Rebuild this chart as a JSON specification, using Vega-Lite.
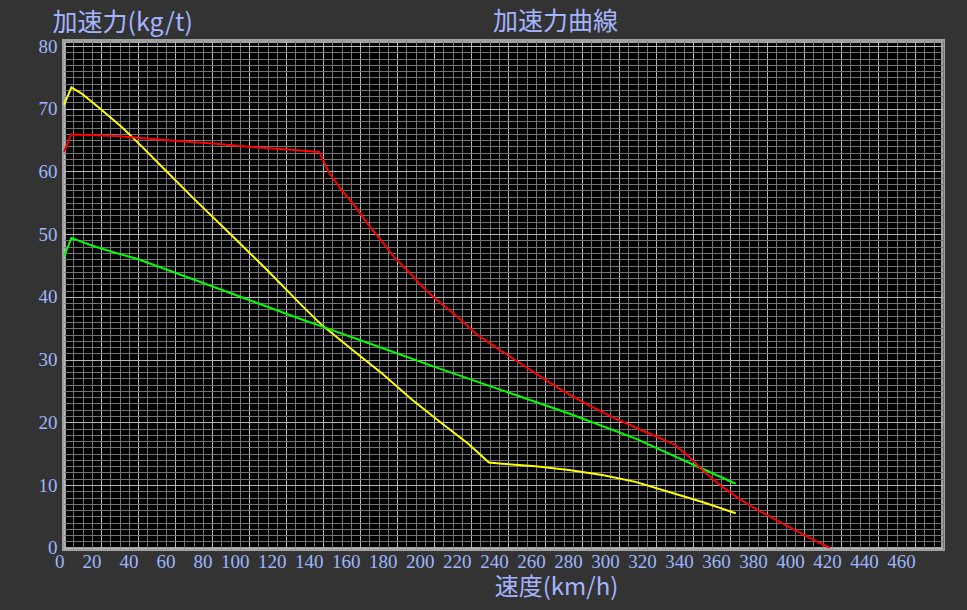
{
  "$schema": "https://vega.github.io/schema/vega-lite/v6.json",
  "width": 879,
  "height": 508,
  "autosize": {"type": "none"},
  "padding": {"left": 64, "top": 41, "right": 24, "bottom": 61},
  "background": "#333333",
  "config": {
    "view": {"fill": "#000000", "stroke": "#a0a0a0", "strokeWidth": 4}
  },
  "title": {
    "text": "加速力曲線",
    "font": "Noto Sans CJK JP",
    "fontSize": 25,
    "fontWeight": "normal",
    "color": "#a4b4ff",
    "anchor": "middle",
    "frame": "group",
    "dx": 52,
    "dy": 27,
    "offset": -10,
    "baseline": "middle"
  },
  "data": {
    "values": [
      {"series": "A", "speed": 0, "force": 70.6},
      {"series": "A", "speed": 4, "force": 73.4},
      {"series": "A", "speed": 9.6, "force": 72.4},
      {"series": "A", "speed": 15, "force": 71.1},
      {"series": "A", "speed": 20.4, "force": 69.8},
      {"series": "A", "speed": 31.2, "force": 67.1},
      {"series": "A", "speed": 42, "force": 64.0},
      {"series": "A", "speed": 52.8, "force": 60.8},
      {"series": "A", "speed": 70, "force": 55.7},
      {"series": "A", "speed": 90, "force": 50.0},
      {"series": "A", "speed": 110, "force": 44.2},
      {"series": "A", "speed": 128.6, "force": 38.6},
      {"series": "A", "speed": 139.4, "force": 35.5},
      {"series": "A", "speed": 155.6, "force": 31.6},
      {"series": "A", "speed": 171.9, "force": 27.8},
      {"series": "A", "speed": 188.1, "force": 23.6},
      {"series": "A", "speed": 204.3, "force": 19.8},
      {"series": "A", "speed": 218.8, "force": 16.5},
      {"series": "A", "speed": 229.6, "force": 13.6},
      {"series": "A", "speed": 236.8, "force": 13.4},
      {"series": "A", "speed": 254.8, "force": 13.0},
      {"series": "A", "speed": 272.9, "force": 12.4},
      {"series": "A", "speed": 290.9, "force": 11.6},
      {"series": "A", "speed": 308.9, "force": 10.5},
      {"series": "A", "speed": 327, "force": 8.9},
      {"series": "A", "speed": 345, "force": 7.3},
      {"series": "A", "speed": 363, "force": 5.5},
      {"series": "B", "speed": 0, "force": 46.4},
      {"series": "B", "speed": 4, "force": 49.4},
      {"series": "B", "speed": 15, "force": 48.2},
      {"series": "B", "speed": 25.8, "force": 47.2},
      {"series": "B", "speed": 40.2, "force": 46.0},
      {"series": "B", "speed": 80, "force": 41.7},
      {"series": "B", "speed": 100, "force": 39.5},
      {"series": "B", "speed": 128.6, "force": 36.4},
      {"series": "B", "speed": 141.2, "force": 35.1},
      {"series": "B", "speed": 164.7, "force": 32.6},
      {"series": "B", "speed": 200.7, "force": 28.8},
      {"series": "B", "speed": 236.8, "force": 25.1},
      {"series": "B", "speed": 272.9, "force": 21.4},
      {"series": "B", "speed": 308.9, "force": 17.4},
      {"series": "B", "speed": 345, "force": 12.6},
      {"series": "B", "speed": 363, "force": 10.2},
      {"series": "C", "speed": 0, "force": 63.1},
      {"series": "C", "speed": 3.8, "force": 65.9},
      {"series": "C", "speed": 15, "force": 65.8},
      {"series": "C", "speed": 30, "force": 65.6},
      {"series": "C", "speed": 51, "force": 65.1},
      {"series": "C", "speed": 82, "force": 64.4},
      {"series": "C", "speed": 101, "force": 63.9},
      {"series": "C", "speed": 121, "force": 63.5},
      {"series": "C", "speed": 138, "force": 63.1},
      {"series": "C", "speed": 143, "force": 59.9},
      {"series": "C", "speed": 150.2, "force": 57.0},
      {"series": "C", "speed": 157.4, "force": 54.4},
      {"series": "C", "speed": 164.7, "force": 51.4},
      {"series": "C", "speed": 171.9, "force": 48.8},
      {"series": "C", "speed": 179.1, "force": 46.1},
      {"series": "C", "speed": 186.3, "force": 44.0},
      {"series": "C", "speed": 193.5, "force": 41.7},
      {"series": "C", "speed": 200.7, "force": 39.7},
      {"series": "C", "speed": 211.5, "force": 37.1},
      {"series": "C", "speed": 222.3, "force": 34.2},
      {"series": "C", "speed": 233.2, "force": 32.0},
      {"series": "C", "speed": 244, "force": 29.9},
      {"series": "C", "speed": 254.8, "force": 27.8},
      {"series": "C", "speed": 269.2, "force": 25.1},
      {"series": "C", "speed": 283.7, "force": 22.7},
      {"series": "C", "speed": 298.1, "force": 20.6},
      {"series": "C", "speed": 312.5, "force": 18.7},
      {"series": "C", "speed": 329.6, "force": 16.5},
      {"series": "C", "speed": 337.8, "force": 14.5},
      {"series": "C", "speed": 345, "force": 12.4},
      {"series": "C", "speed": 355.8, "force": 9.7},
      {"series": "C", "speed": 363, "force": 8.2},
      {"series": "C", "speed": 372, "force": 6.5},
      {"series": "C", "speed": 388.2, "force": 3.9},
      {"series": "C", "speed": 402.7, "force": 1.6},
      {"series": "C", "speed": 413.8, "force": 0}
    ]
  },
  "mark": {"type": "line", "strokeWidth": 2},
  "encoding": {
    "x": {
      "field": "speed",
      "type": "quantitative",
      "scale": {"domain": [0, 475], "nice": false, "zero": false},
      "axis": {
        "title": "速度(km/h)",
        "values": [0,5,10,15,20,25,30,35,40,45,50,55,60,65,70,75,80,85,90,95,100,105,110,115,120,125,130,135,140,145,150,155,160,165,170,175,180,185,190,195,200,205,210,215,220,225,230,235,240,245,250,255,260,265,270,275,280,285,290,295,300,305,310,315,320,325,330,335,340,345,350,355,360,365,370,375,380,385,390,395,400,405,410,415,420,425,430,435,440,445,450,455,460,465,470,475],
        "grid": true,
        "gridColor": {"condition": {"test": "datum.value % 20 === 0", "value": "#b4b4b4"}, "value": "#747474"},
        "gridWidth": 1,
        "ticks": false,
        "domain": false,
        "format": "d",
        "labelExpr": "datum.value % 20 === 0 ? datum.label : ''",
        "labelAlign": "right",
        "labelDx": 3,
        "labelBaseline": "top",
        "labelPadding": 3,
        "labelFont": "Liberation Serif",
        "labelFontSize": 19,
        "labelColor": "#9fb6ff",
        "labelOverlap": false,
        "labelFlush": false,
        "labelBound": false,
        "titleFont": "Noto Sans CJK JP",
        "titleFontSize": 24,
        "titleFontWeight": "normal",
        "titleColor": "#a4b4ff",
        "titleX": 492,
        "titleY": 38,
        "titleAlign": "center",
        "titleBaseline": "middle"
      }
    },
    "y": {
      "field": "force",
      "type": "quantitative",
      "scale": {"domain": [-0.2, 80.8], "nice": false, "zero": false},
      "axis": {
        "title": "加速力(kg/t)",
        "values": [0,1,2,3,4,5,6,7,8,9,10,11,12,13,14,15,16,17,18,19,20,21,22,23,24,25,26,27,28,29,30,31,32,33,34,35,36,37,38,39,40,41,42,43,44,45,46,47,48,49,50,51,52,53,54,55,56,57,58,59,60,61,62,63,64,65,66,67,68,69,70,71,72,73,74,75,76,77,78,79,80],
        "grid": true,
        "gridColor": {"condition": {"test": "datum.value % 10 === 0", "value": "#b4b4b4"}, "value": "#747474"},
        "gridWidth": 1,
        "ticks": false,
        "domain": false,
        "format": "d",
        "labelExpr": "datum.value % 10 === 0 ? datum.label : ''",
        "labelAlign": "right",
        "labelBaseline": "middle",
        "labelDy": 3,
        "labelPadding": 7,
        "labelFont": "Liberation Serif",
        "labelFontSize": 19,
        "labelColor": "#9fb6ff",
        "labelOverlap": false,
        "labelFlush": false,
        "labelBound": false,
        "titleFont": "Noto Sans CJK JP",
        "titleFontSize": 25,
        "titleFontWeight": "normal",
        "titleColor": "#a4b4ff",
        "titleAngle": 0,
        "titleX": -12,
        "titleY": -19,
        "titleAlign": "left",
        "titleBaseline": "middle"
      }
    },
    "color": {
      "field": "series",
      "type": "nominal",
      "scale": {"domain": ["A", "B", "C"], "range": ["#ffff00", "#00ff00", "#ff0000"]},
      "legend": null
    }
  }
}
